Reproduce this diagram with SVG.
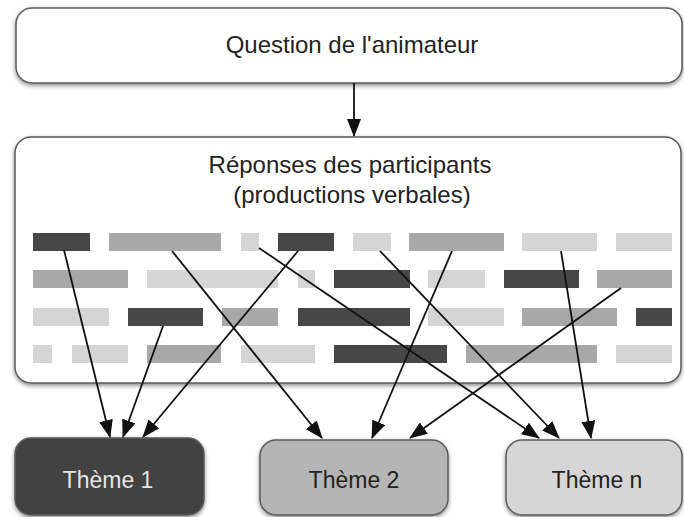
<svg xmlns="http://www.w3.org/2000/svg" width="684" height="517" viewBox="0 0 684 517">
  <style>
    .box { stroke: #5a5a5a; stroke-width: 1.5; filter: url(#shadow); }
    .label { font-family: "Liberation Sans", Arial, sans-serif; font-size: 24px; text-anchor: middle; fill: #222; }
    .theme { font-size: 23px; }
    .dk { fill: #474747; }
    .md { fill: #a8a8a8; }
    .lt { fill: #d5d5d5; }
    .link { stroke: #111; stroke-width: 1.8; fill: none; marker-end: url(#head); }
  </style>
  <defs>
    <filter id="shadow" x="-5%" y="-10%" width="110%" height="130%">
      <feDropShadow dx="0" dy="2" stdDeviation="2" flood-color="#000" flood-opacity="0.45"/>
    </filter>
    <marker id="head" viewBox="0 0 18 14" refX="17" refY="7" markerWidth="18" markerHeight="14" markerUnits="userSpaceOnUse" orient="auto">
      <path d="M0,0 L18,7 L0,14 Z" fill="#111"/>
    </marker>
  </defs>

  <rect width="684" height="517" fill="#fff"/>

  <!-- question box -->
  <g id="question">
    <rect class="box" x="16" y="8" width="666" height="75" rx="16" fill="#fff"/>
    <text class="label" x="352" y="53">Question de l'animateur</text>
  </g>

  <!-- responses box with bars -->
  <g id="responses">
    <rect class="box" x="15" y="137" width="666" height="246" rx="16" fill="#fff"/>
    <text class="label" x="350" y="173">Réponses des participants</text>
    <text class="label" x="352" y="203">(productions verbales)</text>
    <g id="row1">
      <rect class="dk" x="33" y="233" width="57" height="18"/>
      <rect class="md" x="109" y="233" width="112" height="18"/>
      <rect class="lt" x="241" y="233" width="18" height="18"/>
      <rect class="dk" x="278" y="233" width="56" height="18"/>
      <rect class="lt" x="353" y="233" width="38" height="18"/>
      <rect class="md" x="409" y="233" width="95" height="18"/>
      <rect class="lt" x="522" y="233" width="75" height="18"/>
      <rect class="lt" x="616" y="233" width="56" height="18"/>
    </g>
    <g id="row2">
      <rect class="md" x="33" y="270" width="95" height="18"/>
      <rect class="lt" x="147" y="270" width="131" height="18"/>
      <rect class="lt" x="298" y="270" width="17" height="18"/>
      <rect class="dk" x="334" y="270" width="76" height="18"/>
      <rect class="lt" x="428" y="270" width="57" height="18"/>
      <rect class="dk" x="504" y="270" width="75" height="18"/>
      <rect class="md" x="597" y="270" width="75" height="18"/>
    </g>
    <g id="row3">
      <rect class="lt" x="33" y="308" width="76" height="18"/>
      <rect class="dk" x="128" y="308" width="75" height="18"/>
      <rect class="md" x="222" y="308" width="56" height="18"/>
      <rect class="dk" x="298" y="308" width="112" height="18"/>
      <rect class="lt" x="428" y="308" width="76" height="18"/>
      <rect class="md" x="522" y="308" width="95" height="18"/>
      <rect class="dk" x="636" y="308" width="36" height="18"/>
    </g>
    <g id="row4">
      <rect class="lt" x="33" y="345" width="19" height="18"/>
      <rect class="lt" x="72" y="345" width="56" height="18"/>
      <rect class="md" x="147" y="345" width="74" height="18"/>
      <rect class="lt" x="241" y="345" width="74" height="18"/>
      <rect class="dk" x="334" y="345" width="113" height="18"/>
      <rect class="md" x="466" y="345" width="131" height="18"/>
      <rect class="lt" x="616" y="345" width="56" height="18"/>
    </g>
  </g>

  <!-- theme boxes -->
  <g id="theme1">
    <rect class="box" x="15" y="438" width="189" height="77" rx="16" fill="#424242"/>
    <text class="label theme" x="108" y="488" style="fill:#e6e6e6">Thème 1</text>
  </g>
  <g id="theme2">
    <rect class="box" x="260" y="440" width="188" height="75" rx="16" fill="#b5b5b5"/>
    <text class="label theme" x="354" y="488">Thème 2</text>
  </g>
  <g id="themen">
    <rect class="box" x="506" y="440" width="176" height="75" rx="16" fill="#d6d6d6"/>
    <text class="label theme" x="597" y="488">Thème n</text>
  </g>

  <!-- connectors -->
  <g id="connectors">
    <line class="link" x1="354" y1="83" x2="354" y2="136"/>
    <line class="link" x1="64" y1="250" x2="110" y2="437"/>
    <line class="link" x1="163" y1="326" x2="123" y2="437"/>
    <line class="link" x1="298" y1="251" x2="143" y2="437"/>
    <line class="link" x1="172" y1="251" x2="322" y2="438"/>
    <line class="link" x1="452" y1="251" x2="372" y2="438"/>
    <line class="link" x1="621" y1="288" x2="410" y2="438"/>
    <line class="link" x1="259" y1="248" x2="539" y2="438"/>
    <line class="link" x1="380" y1="251" x2="559" y2="438"/>
    <line class="link" x1="561" y1="251" x2="591" y2="438"/>
  </g>
</svg>
